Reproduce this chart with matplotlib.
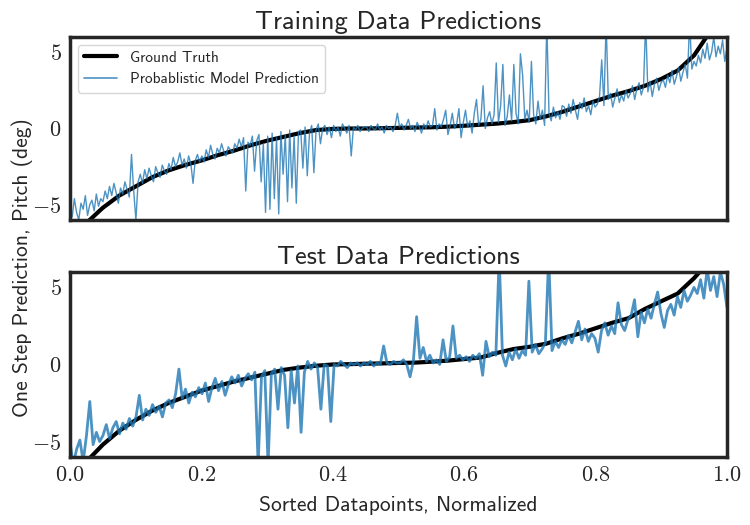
import numpy as np
import matplotlib
matplotlib.use("Agg")
import matplotlib.pyplot as plt
import seaborn as sns

sns.set_style("white")
plt.rcParams["mathtext.fontset"] = "cm"

# ground truth (sorted pitch), sampled evenly along the normalized axis
train_truth = [-7.5, -6.2, -5.2, -4.4, -3.8, -3.2, -2.75, -2.4, -2.1, -1.75,
               -1.45, -1.1, -0.8, -0.55, -0.3, -0.1, -0.03, 0.0, 0.0, 0.02,
               0.04, 0.06, 0.08, 0.12, 0.18, 0.25, 0.32, 0.42, 0.55, 0.8,
               1.1, 1.45, 1.8, 2.15, 2.45, 2.8, 3.25, 3.8, 4.8, 6.4, 8.0]
test_truth = [-7.5, -6.3, -5.2, -4.3, -3.6, -3.0, -2.5, -2.1, -1.7, -1.4,
              -1.1, -0.85, -0.6, -0.35, -0.2, -0.08, 0.0, 0.02, 0.05, 0.07,
              0.1, 0.12, 0.18, 0.25, 0.35, 0.45, 0.75, 1.0, 1.15, 1.35,
              1.7, 2.0, 2.35, 2.7, 3.0, 3.6, 4.1, 4.6, 5.6, 6.8, 8.0]

# probabilistic model predictions
train_pred = [
    -5.2, -5.8, -4.6, -5.5, -6.0, -4.9, -5.3, -4.4, -5.7, -5.0, -4.7, -5.4, -4.3, -5.1, -4.6,
    -4.8, -4.1, -4.6, -3.8, -4.4, -3.6, -4.2, -4.9, -3.9, -4.3, -3.5, -4.0, -4.5, -1.7, -4.1,
    -6.0, -3.5, -3.0, -3.6, -2.7, -3.3, -2.6, -3.1, -3.5, -2.5, -2.9, -3.2, -2.4, -2.8, -3.0,
    -2.3, -2.7, -1.9, -2.5, -2.2, -1.6, -2.4, -2.0, -2.6, -1.8, -2.3, -3.6, -2.1, -1.7, -2.2,
    -1.8, -2.2, -1.4, -1.9, -1.1, -1.7, -2.0, -1.3, -1.6, -1.0, -1.5, -1.8, -1.2, -1.4, -1.6,
    -1.0, -1.3, -0.7, -1.2, -0.6, -4.1, -0.9, -1.1, -0.5, -2.8, -0.8, -0.4, -3.5, -1.0, -5.5,
    -0.5, -5.3, -0.3, -4.6, -0.6, -5.6, -0.2, -3.0, -0.4, -4.8, -0.1, -3.9, -0.5, -4.9, -0.2,
    -0.1, -2.6, 0.1, -3.1, -0.3, 0.2, -2.9, -0.1, 0.3, -1.0, 0.0, 0.2, -0.4, 0.1, -0.6,
    0.2, -0.2, 0.1, -0.5, 0.3, 0.0, -0.3, 0.2, -1.8, 0.1, -0.1, 0.2, -0.2, 0.0, 0.1,
    0.1, -0.2, 0.2, 0.0, -0.1, 0.3, -0.1, 0.1, -0.3, 0.2, 0.0, 0.1, -0.2, 0.2, 1.0,
    0.1, 0.3, -0.1, 0.2, 0.6, 0.0, 0.2, -0.2, 0.4, 0.1, -0.3, 0.3, 0.0, 0.5, 0.1,
    0.2, 1.3, -0.1, 0.3, 0.1, 0.6, 1.2, -0.4, 0.2, 1.0, 0.0, 0.3, 1.3, -0.6, 0.4,
    1.2, 0.1, 0.5, -0.3, 1.0, 1.9, 0.2, 0.6, 2.8, 0.0, 0.7, 1.1, 0.3, 0.9, 4.3,
    0.4, 1.5, 4.2, 0.2, 0.8, 2.2, 0.5, 4.2, 1.0, 0.3, 4.9, 3.5, 0.6, 1.2, 0.4,
    4.4, 0.9, 0.3, 1.8, 0.6, 1.2, 0.2, 7.0, 1.0, 0.5, 1.4, 0.7, 1.1, 0.6, 1.5,
    1.4, 0.8, 1.6, 1.0, 1.9, 1.2, 0.6, 1.7, 1.3, 2.0, 1.1, 1.5, 0.9, 1.8, 1.4,
    1.6, 2.1, 4.5, 1.5, 7.0, 1.9, 2.3, 1.4, 2.0, 2.6, 1.7, 2.2, 1.8, 2.5, 2.0,
    2.3, 2.8, 1.9, 2.6, 3.0, 2.2, 2.7, 7.0, 2.4, 3.1, 2.1, 2.9, 3.3, 2.5, 3.0,
    3.2, 2.7, 3.5, 3.0, 3.8, 2.9, 3.4, 4.0, 3.1, 3.7, 4.2, 3.3, 7.0, 3.9, 4.4,
    4.1, 4.8, 4.3, 5.2, 4.6, 5.6, 4.5, 5.0, 6.0, 4.7, 5.4, 4.9, 5.8, 4.4, 5.3,
]
test_pred = [
    -5.0, -6.5, -5.5, -4.9, -6.3, -4.6, -2.4, -5.2, -4.4, -5.0,
    -4.6, -3.9, -4.8, -4.1, -3.7, -4.5, -3.8, -4.2, -3.5, -4.0,
    -3.4, -2.0, -3.6, -2.9, -3.3, -2.6, -3.1, -2.7, -3.4, -2.5,
    -2.3, -2.8, -1.9, -0.3, -2.2, -1.6, -2.5, -1.8, -2.1, -1.5,
    -1.9, -1.2, -2.4, -1.5, -0.9, -1.7, -1.1, -2.0, -1.3, -0.8,
    -1.2, -0.7, -1.4, -0.9, -0.6, -1.0, -0.5, -6.5, -0.8, -0.4,
    -6.5, -0.6, -0.3, -2.9, -0.2, -0.7, -4.1, -0.4, -2.5, -0.1,
    -4.4, -0.5, 0.2, -0.3, 0.1, -0.2, -2.9, 0.0, -0.1, -3.7,
    0.0, -0.1, 0.2, 0.0, -0.2, 0.1, 0.0, 0.1, -0.1, 0.1,
    0.0, 0.2, -0.1, 0.1, 0.0, 1.2, 0.1, 0.0, 0.2, 0.1,
    0.1, 0.3, 0.0, -0.8, 0.2, 3.1, 0.4, 1.1, 0.2, 0.6,
    0.1, 0.3, 0.0, 1.6, 0.2, 0.5, 2.5, 0.4, 0.6, 0.3,
    0.5, 0.2, 0.6, 0.4, 0.7, -0.7, 1.5, 0.5, 0.8, 0.6,
    7.0, 0.6, -0.1, 0.8, 0.3, 1.0, 0.4, 0.9, 0.6, 5.4,
    0.8, 1.3, 0.7, 1.0, 1.4, 7.0, 0.9, 1.5, 1.1, 1.6,
    1.3, 1.9, 1.4, 2.1, 2.8, 1.6, 2.3, 1.5, 2.0, 1.7,
    0.8, 2.2, 2.7, 1.9, 2.5, 2.0, 4.0, 2.6, 2.2, 2.9,
    3.2, 4.2, 1.8, 3.4, 2.7, 3.6, 3.0, 3.9, 4.7, 3.3,
    2.4, 3.5, 3.9, 3.2, 4.4, 3.7, 4.8, 4.1, 4.5, 5.0,
    4.6, 5.5, 4.3, 6.2, 4.8, 5.7, 4.4, 6.0, 5.2, 3.7,
]

x_ticks = [0.0, 0.2, 0.4, 0.6, 0.8, 1.0]
x_ticklabels = ["$0.0$", "$0.2$", "$0.4$", "$0.6$", "$0.8$", "$1.0$"]
y_ticks = [-5, 0, 5]
y_ticklabels = ["$-5$", "$0$", "$5$"]

blue = "#1f77b4"
sans = "cmss10"

fig = plt.figure(figsize=(7.5, 5.25), dpi=100)
ax1 = fig.add_axes([0.0933, 0.581, 0.876, 0.3485])
ax2 = fig.add_axes([0.0933, 0.1295, 0.876, 0.3525], sharex=ax1)

panels = [
    (ax1, train_truth, train_pred, 1.0, "Training Data Predictions"),
    (ax2, test_truth, test_pred, 2.0, "Test Data Predictions"),
]
for ax, truth, pred, lw, title in panels:
    ax.plot(np.linspace(0, 1, len(truth)), truth, color="black", lw=3,
            label="Ground Truth")
    ax.plot(np.linspace(0, 1, len(pred)), pred, color=blue, alpha=0.8, lw=lw,
            label="Probablistic Model Prediction")
    ax.set_ylim(-6, 6)
    ax.set_xlim(0, 1)
    ax.set_yticks(y_ticks)
    ax.set_yticklabels(y_ticklabels, fontsize=16)
    ax.set_title(title, fontsize=19, family=sans, pad=6)
    for s in ax.spines.values():
        s.set_linewidth(2.5)
        s.set_color("#262626")
    ax.tick_params(length=0, pad=6)

ax1.tick_params(labelbottom=False)
ax2.set_xticks(x_ticks)
ax2.set_xticklabels(x_ticklabels, fontsize=16)
ax2.set_xlabel("Sorted Datapoints, Normalized", fontsize=15.5, family=sans,
               labelpad=8)

leg = ax1.legend(loc="upper left", prop={"family": sans, "size": 11},
                 frameon=True, fancybox=True, handlelength=2.2)
leg.get_frame().set_edgecolor("#cccccc")
for line in leg.get_lines()[1:]:
    line.set_linewidth(1.2)

fig.text(0.03, 0.49, "One Step Prediction, Pitch (deg)", rotation=90,
         ha="center", va="center", fontsize=15.5, family=sans)

fig.savefig("out.png", dpi=100)
